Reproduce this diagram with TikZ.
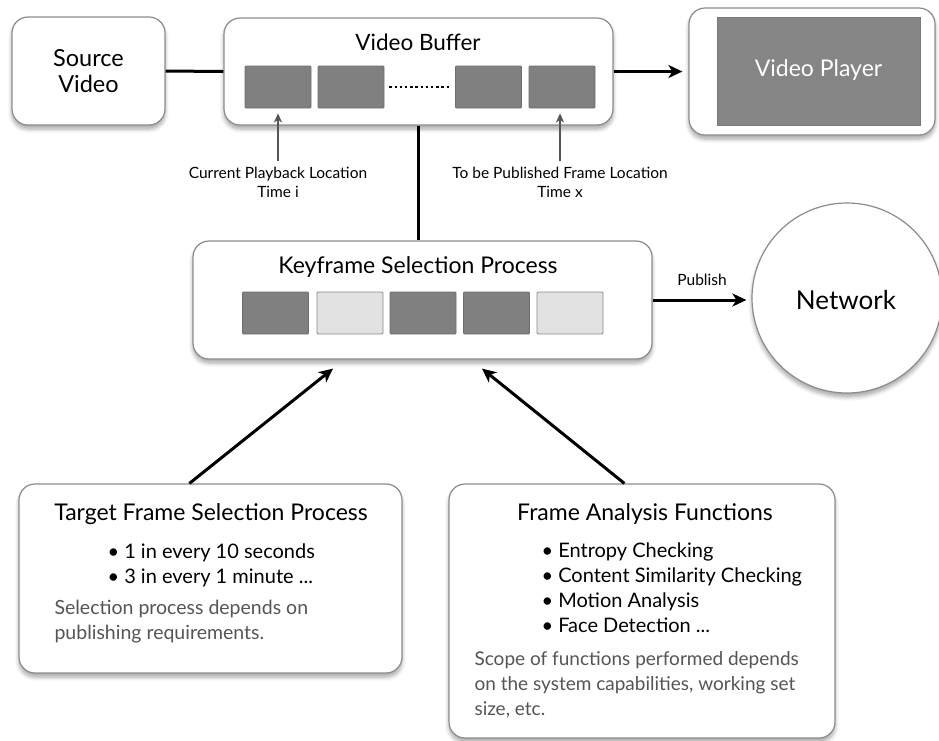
\documentclass[tikz,border=0pt]{standalone}
\usepackage{fontspec}
\setmainfont{Lato}
\usetikzlibrary{arrows.meta,shadows.blur,calc}
\definecolor{framedark}{HTML}{808080}
\definecolor{framelight}{HTML}{E2E2E2}
\definecolor{frameedge}{HTML}{6E6E6E}
\definecolor{boxedge}{HTML}{8C8C8C}
\definecolor{desc}{HTML}{555555}
\definecolor{pointer}{HTML}{555555}
\definecolor{screen}{HTML}{858585}
\tikzset{
 box/.style={draw=boxedge, line width=1.2pt, fill=white, rounded corners=16pt,
   blur shadow={shadow xshift=0pt, shadow yshift=-4pt, shadow blur steps=6, shadow opacity=35, shadow blur radius=4pt},
   inner sep=0pt},
 dframe/.style={draw=frameedge, line width=0.8pt, fill=framedark, minimum width=66pt, minimum height=42pt, inner sep=0pt, rounded corners=1pt},
 lframe/.style={dframe, fill=framelight, draw=framelight!60!black},
 conn/.style={line width=3pt, black},
 arr/.style={conn, -{Stealth[length=14pt,width=13pt,inset=4pt]}},
 ptr/.style={draw=pointer, line width=1.6pt, -{Stealth[length=9pt,width=8pt,inset=2.5pt]}},
 bigtxt/.style={font=\fontsize{23.5}{26}\selectfont, align=center},
 title/.style={font=\fontsize{23}{26}\selectfont},
 small/.style={font=\fontsize{15.5}{19}\selectfont, align=center},
 item/.style={font=\fontsize{20}{25}\selectfont, anchor=west, align=left},
 desctxt/.style={font=\fontsize{19}{25}\selectfont, text=desc, anchor=west, align=left},
}
\begin{document}
\begin{tikzpicture}[x=1pt,y=-1pt]
\useasboundingbox (0,0) rectangle (939,740);
% top row
\node[box, minimum width=153pt, minimum height=108pt] (src) at (88.5,71) {};
\node[bigtxt] (srct) at (src.center) {Source\\Video};
\node[box, minimum width=389pt, minimum height=107pt] (buf) at (418.5,71.5) {};
\node[title, font=\fontsize{22.5}{26}\selectfont] (buft) at (418,42) {Video Buffer};
\node[dframe] (b1) at (278,87) {};
\node[dframe] (b2) at (351,87) {};
\node[dframe] (b3) at (488.5,87) {};
\node[dframe] (b4) at (562,87) {};
\draw[line width=2.4pt, dash pattern=on 2.4pt off 2.8pt] ($(b2.east)+(5,0)$) -- ($(b3.west)+(-4,0)$);
\node[box, minimum width=246pt, minimum height=127pt] (player) at (812,71.5) {};
\node[fill=screen, draw=screen!90!black, line width=0.6pt, minimum width=203pt, minimum height=108pt, inner sep=0pt] (screenr) at (818.5,71) {};
\node[bigtxt, font=\fontsize{23}{26}\selectfont, text=white] (playert) at (818.5,70) {Video Player};
% pointers
\node[small] (lblA) at (278,182) {Current Playback Location\\Time i};
\node[small] (lblB) at (560,182) {To be Published Frame Location\\Time x};
\draw[ptr, shorten >=5pt, shorten <=2pt] (lblA.north) -- (lblA.north |- b1.south);
\draw[ptr, shorten >=5pt, shorten <=2pt] (lblB.north) -- (lblB.north |- b4.south);
% keyframe box
\node[box, minimum width=459pt, minimum height=118pt] (kf) at (422.5,300) {};
\node[title] (kft) at (418,267) {Keyframe Selection Process};
\node[dframe] (k1) at (275.5,313) {};
\node[lframe] (k2) at (350,313) {};
\node[dframe] (k3) at (423,313) {};
\node[dframe] (k4) at (496.5,313) {};
\node[lframe] (k5) at (570,313) {};
% network
\node[circle, draw=boxedge, line width=1.2pt, fill=white, minimum size=190pt, inner sep=0pt,
  blur shadow={shadow xshift=0pt, shadow yshift=-4pt, shadow blur steps=6, shadow opacity=35, shadow blur radius=4pt}] (net) at (847,298) {};
\node[bigtxt, font=\fontsize{26}{28}\selectfont] (nett) at (846,300) {Network};
% bottom boxes
\node[box, minimum width=383pt, minimum height=189pt] (tgt) at (210.5,578.5) {};
\node[title] (tgtt) at (211,514) {Target Frame Selection Process};
\node[item] (tgtb) at (104,565.5) {• 1 in every 10 seconds\\• 3 in every 1 minute ...};
\node[desctxt, font=\fontsize{19.5}{25}\selectfont] (tgtd) at (51,621.5) {Selection process depends on\\publishing requirements.};
\node[box, minimum width=386pt, minimum height=254pt] (fa) at (642,611) {};
\node[title] (fat) at (645,514) {Frame Analysis Functions};
\node[item] (fab) at (538,587.5) {• Entropy Checking\\• Content Similarity Checking\\• Motion Analysis\\• Face Detection ...};
\node[desctxt] (fad) at (471,685) {Scope of functions performed depends\\on the system capabilities, working set\\size, etc.};
% connectors
\draw[conn] (src.east) -- (buf.west);
\draw[arr, shorten >=6pt] (buf.east) -- (buf.east -| player.west);
\draw[conn] (buf.south -| buft.south) -- (buft.south |- kf.north);
\draw[arr, shorten >=5pt] (kf.east) -- (kf.east -| net.west);
\node[small] (pubt) at (702,280) {Publish};
\draw[arr] ($(tgt.north west)+(171,0)$) -- ($(kf.south)+(-89.5,9)$);
\draw[arr] ($(fa.north west)+(176,0)$) -- ($(kf.south)+(59.5,9)$);
\end{tikzpicture}
\end{document}
